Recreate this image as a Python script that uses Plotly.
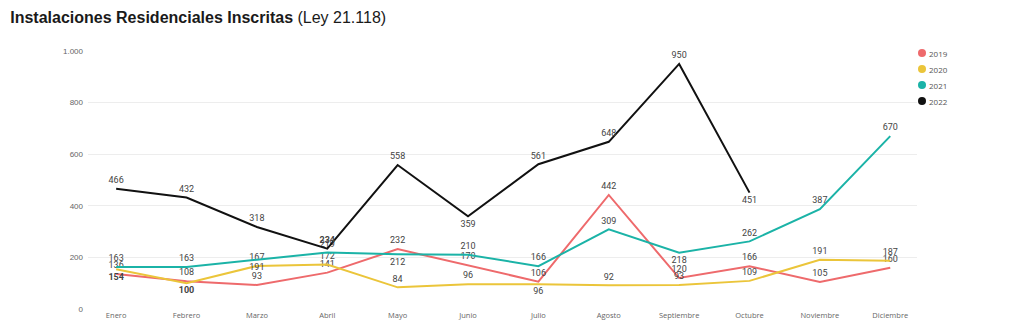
import plotly.graph_objects as go

months = ["Enero", "Febrero", "Marzo", "Abril", "Mayo", "Junio", "Julio",
          "Agosto", "Septiembre", "Octubre", "Noviembre", "Diciembre"]

v2019 = [136, 108, 93, 141, 232, 170, 106, 442, 120, 166, 105, 160]
v2020 = [154, 100, 167, 172, 84, 96, 96, 92, 93, 109, 191, 187]
v2021 = [163, 163, 191, 219, 212, 210, 166, 309, 218, 262, 387, 670]
v2022 = [466, 432, 318, 234, 558, 359, 561, 648, 950, 451]

series_names = ["2019", "2020", "2021", "2022"]
series_values = [v2019, v2020, v2021, v2022]
colors = ["#EE6A6C", "#EBC53A", "#1BB3A7", "#111111"]

# label placement (T = above, B = below)
positions = [
    ["T"] * 12,
    ["B", "B", "T", "T", "T", "T", "B", "T", "T", "T", "T", "T"],
    ["T", "T", "B", "T", "B", "T", "T", "T", "B", "T", "T", "T"],
    ["T", "T", "T", "T", "T", "B", "T", "T", "T", "B"],
]
bold_points = {("2020", 0), ("2020", 1), ("2022", 3)}

fig = go.Figure()
for name, vals, col, pos in zip(series_names, series_values, colors, positions):
    texts = []
    for i, v in enumerate(vals):
        t = str(v)
        if (name, i) in bold_points:
            t = "<b>" + t + "</b>"
        texts.append(t)
    fig.add_trace(go.Scatter(
        x=months[:len(vals)], y=vals, name=name, mode="lines+markers+text",
        line=dict(color=col, width=2),
        marker=dict(size=4, color="rgba(0,0,0,0)"),
        text=texts,
        textposition=["top center" if p == "T" else "bottom center" for p in pos],
        textfont=dict(family="Roboto", size=9, color="#444444"),
        cliponaxis=False, showlegend=False, hoverinfo="x+y+name",
    ))

# custom legend (dot + label)
for k, (name, col) in enumerate(zip(series_names, colors)):
    yk = 1.0 - (53 + 16 * k - 51) / 258.0
    fig.add_shape(type="circle", xref="paper", yref="paper",
                  x0=(922 - 4 - 88) / 829.0, x1=(922 + 4 - 88) / 829.0,
                  y0=yk - 4 / 258.0, y1=yk + 4 / 258.0,
                  fillcolor=col, line=dict(width=0))
    fig.add_annotation(text=name, xref="paper", yref="paper",
                       x=(927 - 88) / 829.0, y=yk, xanchor="left", yanchor="middle",
                       showarrow=False, font=dict(family="Open Sans", size=8, color="#555555"))

fig.update_layout(
    width=1024, height=332,
    margin=dict(l=88, r=107, t=51, b=23),
    paper_bgcolor="white", plot_bgcolor="white",
    separators=",.",
    title=dict(text="<b>Instalaciones Residenciales Inscritas</b> (Ley 21.118)",
               x=0.01, xref="container", xanchor="left",
               y=1 - 17 / 332, yref="container", yanchor="middle",
               font=dict(family="Liberation Sans", size=16, color="#1a1a1a")),
    xaxis=dict(type="category", range=[-0.4, 11.38], showgrid=False, showline=False,
               zeroline=False, ticks="", tickfont=dict(family="Open Sans", size=7.5, color="#666666")),
    yaxis=dict(range=[0, 1000], dtick=200, tickformat=",d", showgrid=True,
               gridcolor="#EDEDED", gridwidth=1, zeroline=False, showline=False,
               ticks="", ticklabelstandoff=4,
               tickfont=dict(family="Liberation Sans", size=8, color="#666666")),
    showlegend=False,
)

fig.write_html("out.html")
